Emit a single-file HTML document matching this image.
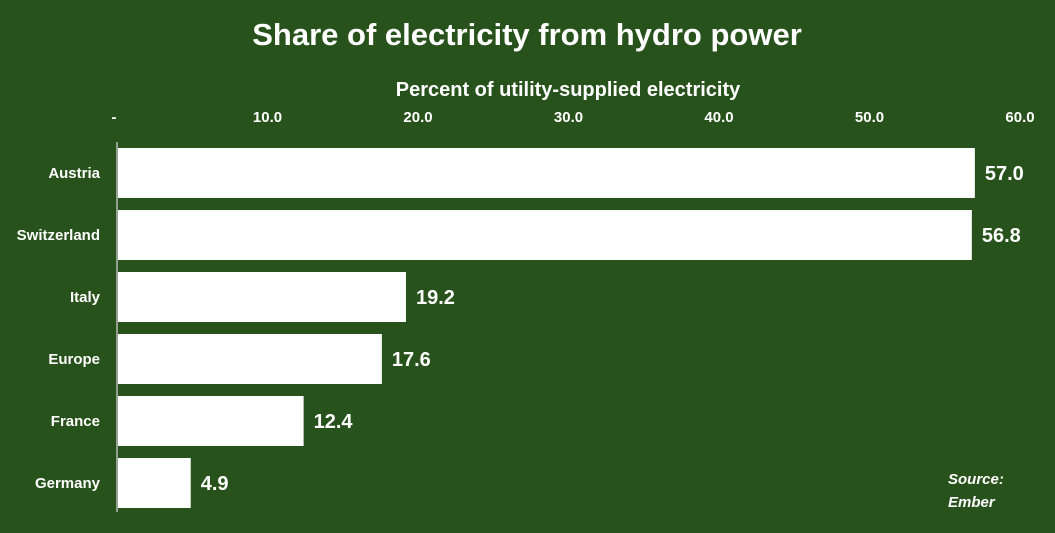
<!DOCTYPE html>
<html><head><meta charset="utf-8"><style>
body{margin:0;background:#28521b;width:1055px;height:528px;overflow:hidden;font-family:"Liberation Sans",sans-serif;color:#fff}
</style></head><body>
<svg width="1055" height="528" xmlns="http://www.w3.org/2000/svg">
<rect width="1055" height="528" fill="#28521b"/>
<text x="527" y="45" text-anchor="middle" font-size="31" font-weight="bold" fill="#fff">Share of electricity from hydro power</text>
<text x="568" y="96" text-anchor="middle" font-size="20" font-weight="bold" fill="#fff">Percent of utility-supplied electricity</text>
<g id="ticks"></g><g id="bars"></g>
<line x1="117" y1="142" x2="117" y2="512" stroke="#bbb" stroke-width="1.5"/>
<text x="948" y="484" font-size="15" font-weight="bold" font-style="italic" fill="#fff">Source:</text>
<text x="948" y="507" font-size="15" font-weight="bold" font-style="italic" fill="#fff">Ember</text>
</svg>
<script>
const categories=["Austria","Switzerland","Italy","Europe","France","Germany"];
const values=[57.0,56.8,19.2,17.6,12.4,4.9];
const tickValues=[0,10,20,30,40,50,60];
const tickLabels=["-","10.0","20.0","30.0","40.0","50.0","60.0"];
const NS="http://www.w3.org/2000/svg";
const x=v=>117+v*(1020-117)/60;
const y=i=>148+i*62;
function mk(tag,attrs,parent,txt){const e=document.createElementNS(NS,tag);for(const k in attrs)e.setAttribute(k,attrs[k]);if(txt!==undefined)e.textContent=txt;parent.appendChild(e);return e;}
const tg=document.getElementById('ticks'),bg=document.getElementById('bars');
tickValues.forEach((v,i)=>{
 const t=mk('text',{x:x(v)-(i==0?3:0),y:122,'text-anchor':'middle','font-size':15,'font-weight':'bold',fill:'#fff'},tg,tickLabels[i]);
 
 
});
categories.forEach((c,i)=>{
 const r=mk('rect',{x:118,y:y(i),width:x(values[i])-118,height:50,fill:'#fff'},bg);
 
 
 const l=mk('text',{x:100,y:y(i)+30,'text-anchor':'end','font-size':15,'font-weight':'bold',fill:'#fff'},bg,c);
 
 
 const v=mk('text',{x:x(values[i])+10,y:y(i)+32,'font-size':20,'font-weight':'bold',fill:'#fff'},bg,values[i].toFixed(1));
 
 
});
</script>
</body></html>
